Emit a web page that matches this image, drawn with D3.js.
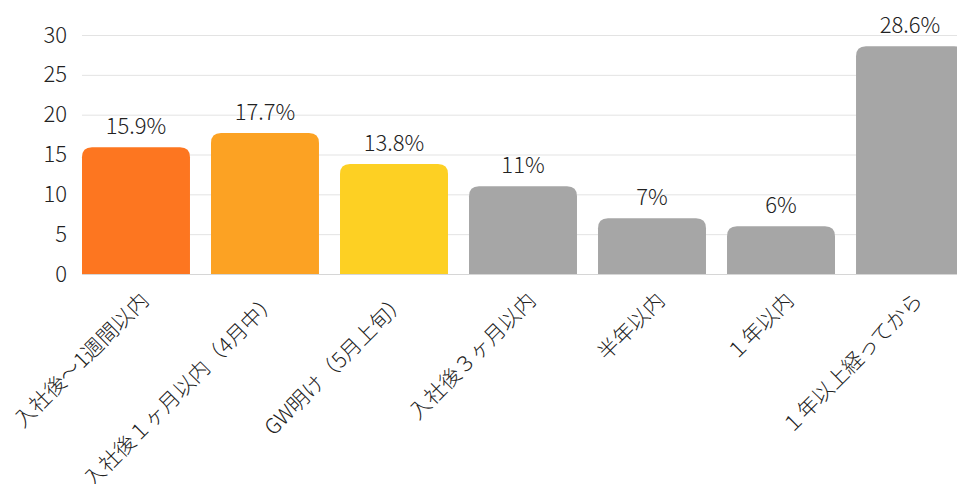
<!DOCTYPE html>
<html>
<head>
<meta charset="utf-8">
<script src="https://cdn.jsdelivr.net/npm/d3@7"></script>
<style>
  body { margin: 0; background: #fff; }
  svg text { font-family: 'Noto Sans CJK JP', 'Noto Sans', sans-serif; font-weight: 300; fill: #222; }
</style>
</head>
<body>
<div id="chart"></div>
<script>
const categories = ['入社後～1週間以内', '入社後１ヶ月以内（4月中）', 'GW明け（5月上旬）', '入社後３ヶ月以内', '半年以内', '１年以内', '１年以上経ってから']
const values = [15.9, 17.7, 13.8, 11, 7, 6, 28.6]
const valueLabels = ['15.9%', '17.7%', '13.8%', '11%', '7%', '6%', '28.6%']
const yTicks = [0, 5, 10, 15, 20, 25, 30]
const barColors = ['#fd7620', '#fca223', '#fdd023', '#a6a6a6', '#a6a6a6', '#a6a6a6', '#a6a6a6']

const width = 957
const height = 484
const margin = { left: 82, top: 35, bottom: 210 }

const svg = d3
  .select('#chart')
  .append('svg')
  .attr('width', width)
  .attr('height', height)

const x = d3
  .scaleBand()
  .domain(categories)
  .range([margin.left, 964])
  .paddingInner(0.163)
  .paddingOuter(0)

const y = d3
  .scaleLinear()
  .domain([0, 30])
  .range([height - margin.bottom, margin.top])

// gridlines
svg
  .append('g')
  .selectAll('line')
  .data(yTicks)
  .enter()
  .append('line')
  .attr('x1', margin.left)
  .attr('x2', width)
  .attr('y1', (d) => y(d) + 0.5)
  .attr('y2', (d) => y(d) + 0.5)
  .attr('stroke', (d) => (d === 0 ? '#d6d6d6' : '#e3e3e3'))
  .attr('stroke-width', 1)

// y axis labels
const yAxis = svg
  .append('g')
  .attr('transform', `translate(${margin.left - 15},0)`)
  .call(d3.axisLeft(y).tickValues(yTicks).tickSize(0).tickPadding(0))
yAxis.select('.domain').remove()
yAxis
  .selectAll('text')
  .attr('font-size', 22)
  .attr('font-family', null)
  .attr('fill', '#222')

// bars, rounded top only
const r = 10
const barPath = (d, i) => {
  const x0 = x(categories[i])
  const x1 = x0 + x.bandwidth()
  const y0 = y(0)
  const y1 = y(d)
  return `M${x0},${y0} V${y1 + r} Q${x0},${y1} ${x0 + r},${y1} H${x1 - r} Q${x1},${y1} ${x1},${y1 + r} V${y0} Z`
}

svg
  .append('g')
  .selectAll('path')
  .data(values)
  .enter()
  .append('path')
  .attr('d', barPath)
  .attr('fill', (d, i) => barColors[i])

// value labels
svg
  .append('g')
  .selectAll('text')
  .data(values)
  .enter()
  .append('text')
  .attr('x', (d, i) => x(categories[i]) + x.bandwidth() / 2)
  .attr('y', (d) => y(d) - 13)
  .attr('text-anchor', 'middle')
  .attr('font-size', 22)
  .text((d, i) => valueLabels[i])

// x labels, rotated
svg
  .append('g')
  .selectAll('text')
  .data(categories)
  .enter()
  .append('text')
  .attr('transform', (d) => `translate(${x(d) + x.bandwidth() / 2 + 14},${y(0) + 28}) rotate(-45)`)
  .attr('text-anchor', 'end')
  .attr('font-size', 21)
  .text((d) => d)
</script>
</body>
</html>
